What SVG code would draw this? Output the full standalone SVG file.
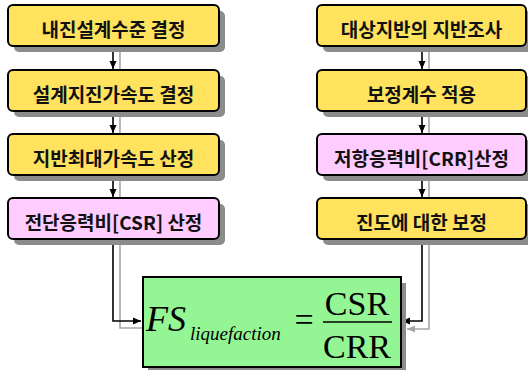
<svg xmlns="http://www.w3.org/2000/svg" width="528" height="370" viewBox="0 0 528 370">
<style>
.box{stroke:#000;stroke-width:2}
.y{fill:#FFE25E}
.p{fill:#FFCCFF}
.sh{fill:#8c8c8c}
.t{font-family:"Noto Sans CJK KR","Noto Sans",sans-serif;font-weight:bold;font-size:19px;fill:#111;text-anchor:middle}
.c{fill:none;stroke:#000;stroke-width:1.6}
.g{fill:none;stroke:#a6a6a6;stroke-width:1.6}
.m{font-family:"Liberation Serif","Times New Roman",serif;fill:#000}
</style>
<defs>
<marker id="ab" markerUnits="userSpaceOnUse" markerWidth="8" markerHeight="8" refX="8" refY="4" orient="auto"><path d="M0,0.5 L8,4 L0,7.5 z" fill="#000"/></marker>
<marker id="ag" markerUnits="userSpaceOnUse" markerWidth="8" markerHeight="8" refX="8" refY="4" orient="auto"><path d="M0,0.5 L8,4 L0,7.5 z" fill="#a6a6a6"/></marker>
</defs>
<g id="connectors">
<path class="g" d="M120,52 V70"/>
<path class="c" d="M113,46 V69" marker-end="url(#ab)"/>
<path class="g" d="M120,117 V134"/>
<path class="c" d="M113,111 V133" marker-end="url(#ab)"/>
<path class="g" d="M120,181 V198"/>
<path class="c" d="M113,175 V197" marker-end="url(#ab)"/>
<path class="g" d="M429,52 V70"/>
<path class="c" d="M422,46 V69" marker-end="url(#ab)"/>
<path class="g" d="M429,117 V134"/>
<path class="c" d="M422,111 V133" marker-end="url(#ab)"/>
<path class="g" d="M429,181 V198"/>
<path class="c" d="M422,175 V197" marker-end="url(#ab)"/>
<path class="g" d="M120,245 V328 H142"/>
<path class="c" d="M113,239 V321 H141" marker-end="url(#ab)"/>
<path class="g" d="M429,245 V329 H407" marker-end="url(#ag)"/>
<path class="c" d="M422,239 V321 H402" marker-end="url(#ab)"/>
</g>
<g id="n1"><rect class="sh" x="14" y="11" width="211" height="41" rx="5"/><rect class="box y" x="8" y="5" width="211" height="41" rx="5"/><text class="t" x="113.5" y="36.5">내진설계수준 결정</text></g>
<g id="n2"><rect class="sh" x="14" y="76" width="211" height="41" rx="5"/><rect class="box y" x="8" y="70" width="211" height="41" rx="5"/><text class="t" x="113.5" y="101.5">설계지진가속도 결정</text></g>
<g id="n3"><rect class="sh" x="14" y="140" width="211" height="41" rx="5"/><rect class="box y" x="8" y="134" width="211" height="41" rx="5"/><text class="t" x="113.5" y="165.5">지반최대가속도 산정</text></g>
<g id="n4"><rect class="sh" x="14" y="204" width="211" height="41" rx="5"/><rect class="box p" x="8" y="198" width="211" height="41" rx="5"/><text class="t" x="113.5" y="229.5">전단응력비[CSR] 산정</text></g>
<g id="n5"><rect class="sh" x="323" y="11" width="209" height="41" rx="5"/><rect class="box y" x="317" y="5" width="209" height="41" rx="5"/><text class="t" x="421.5" y="36.5">대상지반의 지반조사</text></g>
<g id="n6"><rect class="sh" x="323" y="76" width="209" height="41" rx="5"/><rect class="box y" x="317" y="70" width="209" height="41" rx="5"/><text class="t" x="421.5" y="101.5">보정계수 적용</text></g>
<g id="n7"><rect class="sh" x="323" y="140" width="209" height="41" rx="5"/><rect class="box p" x="317" y="134" width="209" height="41" rx="5"/><text class="t" x="421.5" y="165.5">저항응력비[CRR]산정</text></g>
<g id="n8"><rect class="sh" x="323" y="204" width="209" height="41" rx="5"/><rect class="box y" x="317" y="198" width="209" height="41" rx="5"/><text class="t" x="421.5" y="229.5">진도에 대한 보정</text></g>
<g id="formula">
<rect class="sh" x="148" y="283" width="258" height="90"/>
<rect x="143" y="277" width="258" height="90" fill="#93F593" stroke="#000" stroke-width="2"/>
<text class="m" x="146" y="331" font-size="36" font-style="italic">FS</text>
<text class="m" x="190" y="340" font-size="19" font-style="italic">liquefaction</text>
<text class="m" x="304" y="331" font-size="34" text-anchor="middle">=</text>
<line x1="323" y1="322" x2="392" y2="322" stroke="#000" stroke-width="1.6"/>
<text class="m" x="357" y="315" font-size="34" text-anchor="middle">CSR</text>
<text class="m" x="357" y="358" font-size="34" text-anchor="middle">CRR</text>
</g>
</svg>
